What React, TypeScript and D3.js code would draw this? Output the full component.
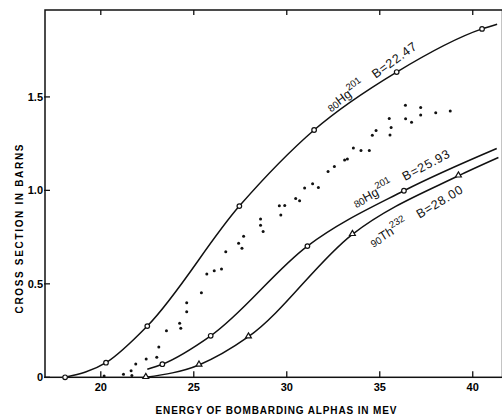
import React, { useEffect, useRef } from 'react';
import * as d3 from 'd3';

// energy ticks (MeV) and cross section ticks (barns)
const energyTicks = [20, 25, 30, 35, 40];
const sigmaTicks = [0, 0.5, 1.0, 1.5];
const sigmaTickLabels = ['0', '0.5', '1.0', '1.5'];

// 80Hg201, B = 22.47  (open circles)
const hgA_E = [18.08, 20.28, 22.5, 27.45, 31.47, 35.91, 40.5];
const hgA_S = [0, 0.078, 0.274, 0.916, 1.323, 1.633, 1.864];
const hgA_tail = [41.31, 1.889];

// 80Hg201, B = 25.93  (open circles)
const hgB_head = [22.5, 0.043];
const hgB_E = [23.31, 25.91, 31.11, 36.3];
const hgB_S = [0.07, 0.222, 0.702, 0.998];
const hgB_tail = [41.29, 1.224];

// 90Th232, B = 28.00  (triangles)
const th_E = [22.42, 25.28, 27.94, 33.53, 39.23];
const th_S = [0, 0.066, 0.217, 0.765, 1.078];
const th_tail = [41.38, 1.176];

// measured points (dots)
const dotE = [20.18, 21.22, 21.63, 21.67, 21.88, 22.44, 23.01, 23.12, 23.53, 24.24,
  24.3, 24.62, 24.62, 25.41, 25.7, 26.1, 26.49, 26.72, 27.41, 27.59,
  27.68, 28.59, 28.59, 28.73, 29.6, 29.89, 29.68, 30.48, 30.69, 30.96,
  31.39, 31.7, 32.22, 32.56, 33.11, 33.26, 33.58, 33.99, 34.44, 34.6,
  34.8, 35.51, 35.61, 35.55, 36.38, 36.39, 36.71, 37.2, 37.2, 38.01, 38.79];
const dotS = [0.007, 0.016, 0.035, 0.009, 0.071, 0.098, 0.107, 0.162, 0.249, 0.289,
  0.262, 0.399, 0.351, 0.452, 0.552, 0.57, 0.579, 0.672, 0.717, 0.69,
  0.755, 0.847, 0.813, 0.78, 0.918, 0.919, 0.868, 0.956, 0.944, 1.013,
  1.036, 1.015, 1.101, 1.128, 1.162, 1.168, 1.227, 1.214, 1.214, 1.295,
  1.321, 1.384, 1.336, 1.296, 1.456, 1.383, 1.364, 1.444, 1.403, 1.415, 1.425];

const W = 502;
const H = 415;
const FONT = '"Liberation Sans", Arial, sans-serif';

const App = () => {
  const ref = useRef<SVGSVGElement>(null);

  useEffect(() => {
    const svg = d3.select(ref.current);
    svg.selectAll('*').remove();

    const x = d3.scaleLinear().domain([17, 41.6]).range([45, 502.5]);
    const y = d3.scaleLinear().domain([0, 1.965]).range([377.3, 10]);

    const g = svg.append('g');

    // frame
    g.append('rect')
      .attr('x', x(17)).attr('y', y(1.965))
      .attr('width', x(41.6) - x(17)).attr('height', y(0) - y(1.965))
      .attr('fill', 'none').attr('stroke', '#111').attr('stroke-width', 1.5);

    // x ticks bottom + top
    energyTicks.forEach(t => {
      g.append('line').attr('x1', x(t)).attr('x2', x(t))
        .attr('y1', y(0)).attr('y2', y(0) - 6)
        .attr('stroke', '#111').attr('stroke-width', 1.3);
      g.append('line').attr('x1', x(t)).attr('x2', x(t))
        .attr('y1', y(1.965)).attr('y2', y(1.965) + 5)
        .attr('stroke', '#111').attr('stroke-width', 1.3);
      g.append('text').attr('x', x(t)).attr('y', y(0) + 14)
        .attr('text-anchor', 'middle')
        .attr('font-family', FONT).attr('font-size', 11).attr('font-weight', 600)
        .text(t);
    });

    // y ticks
    sigmaTicks.forEach((t, i) => {
      g.append('line').attr('x1', x(17) - 1).attr('x2', x(17) + 5)
        .attr('y1', y(t)).attr('y2', y(t))
        .attr('stroke', '#111').attr('stroke-width', 1.3);
      g.append('text').attr('x', x(17) - 2).attr('y', y(t) + 4)
        .attr('text-anchor', 'end')
        .attr('font-family', FONT).attr('font-size', 11).attr('font-weight', 600)
        .text(sigmaTickLabels[i]);
    });

    // axis titles
    g.append('text').attr('x', 276).attr('y', 414)
      .attr('text-anchor', 'middle')
      .attr('font-family', FONT).attr('font-size', 10).attr('font-weight', 700)
      .attr('textLength', 241).attr('lengthAdjust', 'spacing')
      .text('ENERGY OF BOMBARDING ALPHAS IN MEV');
    g.append('text')
      .attr('transform', 'translate(23,229) rotate(-90)')
      .attr('text-anchor', 'middle')
      .attr('font-family', FONT).attr('font-size', 10).attr('font-weight', 700)
      .attr('textLength', 169).attr('lengthAdjust', 'spacing')
      .text('CROSS SECTION IN BARNS');

    const line = d3.line<number[]>()
      .x(d => x(d[0]))
      .y(d => y(d[1]))
      .curve(d3.curveMonotoneX);

    const zip = (a: number[], b: number[]) => a.map((v, i) => [v, b[i]]);
    const curves = [
      [...zip(hgA_E, hgA_S), hgA_tail],
      [hgB_head, ...zip(hgB_E, hgB_S), hgB_tail],
      [...zip(th_E, th_S), th_tail],
    ];
    curves.forEach(c => {
      g.append('path').datum(c)
        .attr('d', line)
        .attr('fill', 'none').attr('stroke', '#111').attr('stroke-width', 1.5);
    });

    // circle markers
    [...zip(hgA_E, hgA_S), ...zip(hgB_E, hgB_S)].forEach(d => {
      g.append('circle').attr('cx', x(d[0])).attr('cy', y(d[1])).attr('r', 2.3)
        .attr('fill', '#fff').attr('stroke', '#111').attr('stroke-width', 1.2);
    });
    // triangle markers
    const tri = d3.symbol().type(d3.symbolTriangle).size(15);
    zip(th_E, th_S).forEach(d => {
      g.append('path').attr('d', tri)
        .attr('transform', `translate(${x(d[0])},${y(d[1]) - 0.5})`)
        .attr('fill', '#fff').attr('stroke', '#111').attr('stroke-width', 1.2);
    });

    // dots
    zip(dotE, dotS).forEach(d => {
      g.append('circle').attr('cx', x(d[0])).attr('cy', y(d[1])).attr('r', 1.5)
        .attr('fill', '#111');
    });

    // curve labels (anchor, angle, perpendicular offset)
    const labels = [
      { e: 32.44, s: 1.408, a: -36, off: -3, z: '80', el: 'Hg', m: '201', b: 'B=22.47' },
      { e: 33.78, s: 0.895, a: -28, off: -3, z: '80', el: 'Hg', m: '201', b: 'B=25.93' },
      { e: 34.59, s: 0.702, a: -31, off: 1, z: '90', el: 'Th', m: '232', b: 'B=28.00' },
    ];
    labels.forEach(l => {
      const t = g.append('text')
        .attr('transform', `translate(${x(l.e)},${y(l.s)}) rotate(${l.a}) translate(0,${l.off})`)
        .attr('font-family', FONT).attr('fill', '#111');
      t.append('tspan').attr('font-size', 10).attr('dy', 1).text(l.z);
      t.append('tspan').attr('font-size', 12.5).attr('dy', -1).text(l.el);
      t.append('tspan').attr('font-size', 9.5).attr('dy', -6).text(l.m);
      t.append('tspan').attr('font-size', 12.5).attr('dx', 13).attr('dy', 6)
        .attr('letter-spacing', 0.8).text(l.b);
    });
  }, []);

  return (
    <svg ref={ref} width={W} height={H}
      style={{ position: 'absolute', left: 0, top: 0, background: '#fff' }} />
  );
};

export default App;
